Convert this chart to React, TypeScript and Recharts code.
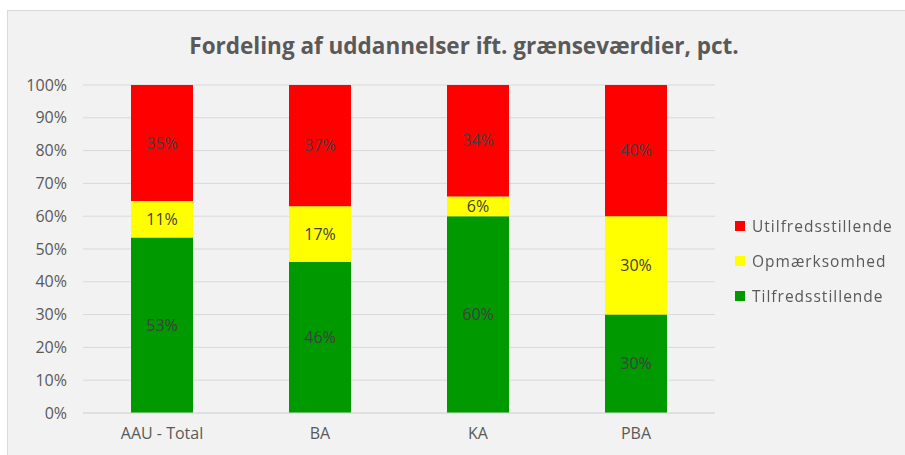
import { BarChart, Bar, XAxis, YAxis, CartesianGrid, Legend, LabelList } from 'recharts';

const categories = ['AAU - Total', 'BA', 'KA', 'PBA'];
const tilfredsstillende = [53, 46, 60, 30];
const opmaerksomhed = [11, 17, 6, 30];
const utilfredsstillende = [35, 37, 34, 40];
const yTicks = [0, 0.1, 0.2, 0.3, 0.4, 0.5, 0.6, 0.7, 0.8, 0.9, 1];

const chartData = categories.map((name, i) => ({
  name,
  tilfreds: tilfredsstillende[i],
  opm: opmaerksomhed[i],
  utilfreds: utilfredsstillende[i],
}));

const font = '"Open Sans", Lato, sans-serif';
const grey = '#595959';

const legendItems = [
  { label: 'Utilfredsstillende', color: '#ff0000' },
  { label: 'Opmærksomhed', color: '#ffff00' },
  { label: 'Tilfredsstillende', color: '#009900' },
];

function ChartLegend() {
  return (
    <div style={{ fontFamily: font, fontSize: 15.5, color: grey, letterSpacing: 1 }}>
      {legendItems.map((item) => (
        <div key={item.label} style={{ display: 'flex', alignItems: 'center', height: 35 }}>
          <span style={{ width: 10, height: 10, background: item.color, marginRight: 7, display: 'inline-block' }} />
          {item.label}
        </div>
      ))}
    </div>
  );
}

export default function App() {
  const pct = (v: number) => `${v}%`;
  return (
    <div
      style={{
        position: 'fixed',
        left: 7,
        top: 10,
        width: 898,
        height: 445,
        background: '#f2f2f2',
        borderLeft: '1px solid #d9d9d9',
        borderTop: '1px solid #d9d9d9',
        fontFamily: font,
      }}
    >
      <div
        style={{
          position: 'absolute',
          left: 9,
          width: 894,
          top: 19,
          textAlign: 'center',
          fontSize: 22.5,
          fontWeight: 700,
          color: grey,
        }}
      >
        Fordeling af uddannelser ift. grænseværdier, pct.
      </div>
      <BarChart
        width={898}
        height={445}
        data={chartData}
        stackOffset="expand"
        margin={{ top: 74, right: 16, bottom: 13, left: 2 }}
      >
        <CartesianGrid vertical={false} stroke="#d9d9d9" />
        <XAxis
          dataKey="name"
          height={30}
          tickLine={false}
          axisLine={{ stroke: '#d9d9d9' }}
          tickMargin={9}
          tick={{ fill: grey, fontSize: 16, fontFamily: font }}
        />
        <YAxis
          width={73}
          ticks={yTicks}
          domain={[0, 1]}
          tickFormatter={(v: number) => `${Math.round(v * 100)}%`}
          tickLine={false}
          axisLine={false}
          tickMargin={10}
          tick={{ fill: grey, fontSize: 16, fontFamily: font }}
        />
        <Legend
          layout="vertical"
          align="right"
          verticalAlign="top"
          content={<ChartLegend />}
          wrapperStyle={{ left: 727, top: 197, width: 175 }}
        />
        <Bar dataKey="tilfreds" stackId="a" fill="#009900" barSize={62} isAnimationActive={false}>
          <LabelList dataKey="tilfreds" position="center" formatter={pct} fill="#404040" fontSize={16} fontFamily={font} />
        </Bar>
        <Bar dataKey="opm" stackId="a" fill="#ffff00" barSize={62} isAnimationActive={false}>
          <LabelList dataKey="opm" position="center" formatter={pct} fill="#404040" fontSize={16} fontFamily={font} />
        </Bar>
        <Bar dataKey="utilfreds" stackId="a" fill="#ff0000" barSize={62} isAnimationActive={false}>
          <LabelList dataKey="utilfreds" position="center" formatter={pct} fill="#404040" fontSize={16} fontFamily={font} />
        </Bar>
      </BarChart>
    </div>
  );
}
